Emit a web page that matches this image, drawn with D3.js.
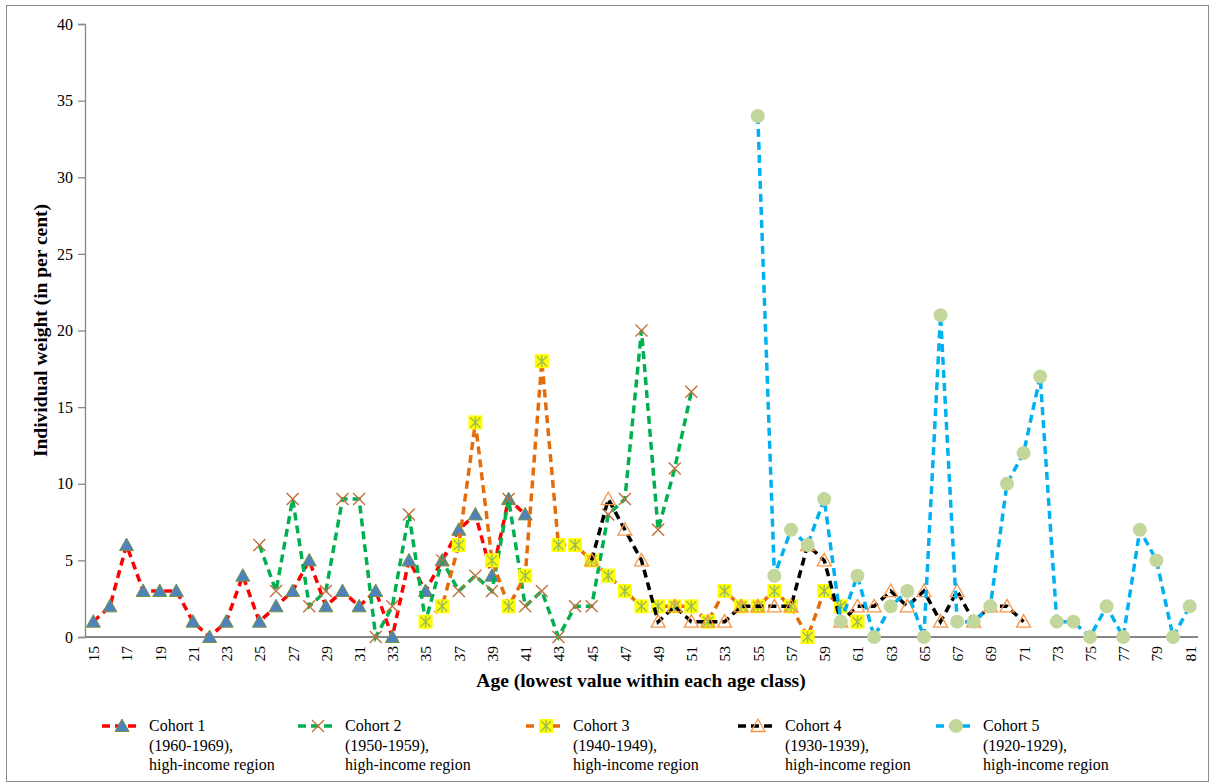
<!DOCTYPE html>
<html>
<head>
<meta charset="utf-8">
<script src="https://cdn.jsdelivr.net/npm/d3@7"></script>
<style>
  body { margin: 0; background: #fff; }
  svg text { font-family: "Liberation Serif", "Times New Roman", "DejaVu Serif", serif !important; }
</style>
</head>
<body>
<svg id="chart" width="1212" height="783"></svg>
<script>
// ages on the category axis (lowest value within each age class)
const ages = [15,16,17,18,19,20,21,22,23,24,25,26,27,28,29,30,31,32,33,34,35,36,37,38,39,40,
  41,42,43,44,45,46,47,48,49,50,51,52,53,54,55,56,57,58,59,60,61,62,63,64,65,66,67,68,69,70,
  71,72,73,74,75,76,77,78,79,80,81]
const yTicks = [0, 5, 10, 15, 20, 25, 30, 35, 40]

// each cohort: first age observed, then individual weights (in per cent)
const cohort1Start = 15
const cohort1 = [1,2,6,3,3,3,1,0,1,4,1,2,3,5,2,3,2,3,0,5,3,5,7,8,4,9,8]
const cohort2Start = 25
const cohort2 = [6,3,9,2,3,9,9,0,2,8,1,5,3,4,3,9,2,3,0,2,2,8,9,20,7,11,16]
const cohort3Start = 35
const cohort3 = [1,2,6,14,5,2,4,18,6,6,5,4,3,2,2,2,2,1,3,2,2,3,2,0,3,2,1]
const cohort4Start = 45
const cohort4 = [5,9,7,5,1,2,1,1,1,2,2,2,2,6,5,1,2,2,3,2,3,1,3,1,2,2,1]
const cohort5Start = 55
const cohort5 = [34,4,7,6,9,1,4,0,2,3,0,21,1,1,2,10,12,17,1,1,0,2,0,7,5,0,2]

const legendLabels = [
  ['Cohort 1', '(1960-1969),', 'high-income region'],
  ['Cohort 2', '(1950-1959),', 'high-income region'],
  ['Cohort 3', '(1940-1949),', 'high-income region'],
  ['Cohort 4', '(1930-1939),', 'high-income region'],
  ['Cohort 5', '(1920-1929),', 'high-income region']
]

const series = [
  {start: cohort1Start, values: cohort1, color: '#ff0000', marker: 'triangle'},
  {start: cohort2Start, values: cohort2, color: '#00b050', marker: 'cross'},
  {start: cohort3Start, values: cohort3, color: '#e46c0a', marker: 'star'},
  {start: cohort4Start, values: cohort4, color: '#000000', marker: 'openTriangle'},
  {start: cohort5Start, values: cohort5, color: '#00b0f0', marker: 'circle'}
].map((s, i) => ({...s, label: legendLabels[i], points: s.values.map((v, j) => ({age: s.start + j, value: v}))}))

const svg = d3.select('#chart')
const plot = {left: 85, right: 1198, top: 24, bottom: 637}

// outer chart border
svg.append('rect')
  .attr('x', 6.5).attr('y', 5.5)
  .attr('width', 1202).attr('height', 776)
  .attr('fill', 'none')
  .attr('stroke', '#8c8c8c')
  .attr('stroke-width', 1)

const x = d3.scalePoint()
  .domain(ages)
  .range([plot.left, plot.right])
  .padding(0.5)

const y = d3.scaleLinear()
  .domain([0, 40])
  .range([plot.bottom, plot.top])

// y axis
const yAxis = svg.append('g')
  .attr('transform', `translate(${plot.left},0)`)
  .call(d3.axisLeft(y).tickValues(yTicks).tickSize(7).tickPadding(5))
yAxis.attr('font-family', null)
yAxis.selectAll('path, line').attr('stroke', '#868686').attr('stroke-width', 1.3)
yAxis.selectAll('text')
  .attr('font-size', 16)
  .attr('fill', '#000')

// x axis (baseline + every other age, rotated)
const xAxis = svg.append('g')
  .attr('transform', `translate(0,${plot.bottom})`)
  .call(d3.axisBottom(x).tickSize(0).tickPadding(0)
    .tickValues(ages.filter((d, i) => i % 2 === 0)))
xAxis.attr('font-family', null)
xAxis.select('path.domain')
  .attr('d', `M${plot.left},0H${plot.right}`)
  .attr('stroke', '#868686').attr('stroke-width', 2)
xAxis.selectAll('text')
  .attr('font-size', 15.5)
  .attr('fill', '#000')
  .attr('text-anchor', 'end')
  .attr('dy', '0.35em')
  .attr('transform', 'translate(0,9) rotate(-90)')
  .attr('x', 0).attr('y', 0)

// axis titles
svg.append('text')
  .attr('x', 641)
  .attr('y', 687)
  .attr('text-anchor', 'middle')
  .attr('font-size', 19.5).attr('font-weight', 'bold')
  .text('Age (lowest value within each age class)')

svg.append('text')
  .attr('transform', `translate(47,${(plot.top + plot.bottom) / 2}) rotate(-90)`)
  .attr('text-anchor', 'middle')
  .attr('font-size', 19.5).attr('font-weight', 'bold')
  .text('Individual weight (in per cent)')

// markers
function drawMarker(g, type) {
  if (type === 'triangle') {
    g.append('path').attr('d', 'M0,-7L7,5.5L-7,5.5Z')
      .attr('fill', '#4f81bd').attr('stroke', '#77933c').attr('stroke-width', 1)
  } else if (type === 'cross') {
    g.append('path').attr('d', 'M-6,-6L6,6M6,-6L-6,6')
      .attr('stroke', '#c0703a').attr('stroke-width', 1.4).attr('fill', 'none')
  } else if (type === 'star') {
    g.append('rect').attr('x', -7).attr('y', -7).attr('width', 14).attr('height', 14)
      .attr('fill', '#ffff00')
    g.append('path').attr('d', 'M-5,-5L5,5M5,-5L-5,5M0,-6V6')
      .attr('stroke', '#9bbb59').attr('stroke-width', 1.4).attr('fill', 'none')
  } else if (type === 'openTriangle') {
    g.append('path').attr('d', 'M0,-7L7,5.5L-7,5.5Z')
      .attr('fill', 'none').attr('stroke', '#f79646').attr('stroke-width', 1.3)
  } else if (type === 'circle') {
    g.append('circle').attr('r', 7).attr('fill', '#c3d69b')
  }
}

const line = d3.line()
  .x(d => x(d.age))
  .y(d => y(d.value))

series.forEach(s => {
  const g = svg.append('g')
  g.append('path')
    .datum(s.points)
    .attr('d', line)
    .attr('fill', 'none')
    .attr('stroke', s.color)
    .attr('stroke-width', 3.5)
    .attr('stroke-dasharray', '8,5')

  g.selectAll('g.marker')
    .data(s.points)
    .enter()
      .append('g')
      .classed('marker', true)
      .attr('transform', d => `translate(${x(d.age)},${y(d.value)})`)
      .each(function() { drawMarker(d3.select(this), s.marker) })
})

// legend
const legendX = [102, 298, 526, 738, 936]
const legend = svg.append('g')
series.forEach((s, i) => {
  const item = legend.append('g').attr('transform', `translate(${legendX[i]},726)`)
  item.append('line')
    .attr('x1', 0).attr('x2', 39).attr('y1', 0).attr('y2', 0)
    .attr('stroke', s.color).attr('stroke-width', 3.5)
    .attr('stroke-dasharray', '8,5')
  drawMarker(item.append('g').attr('transform', 'translate(20,0)'), s.marker)
  item.append('text')
    .attr('x', 47).attr('y', 5)
    .attr('font-size', 16)
    .selectAll('tspan')
    .data(s.label)
    .enter()
      .append('tspan')
      .attr('x', 47)
      .attr('dy', (d, j) => j === 0 ? 0 : 19.5)
      .text(d => d)
})
</script>
</body>
</html>
